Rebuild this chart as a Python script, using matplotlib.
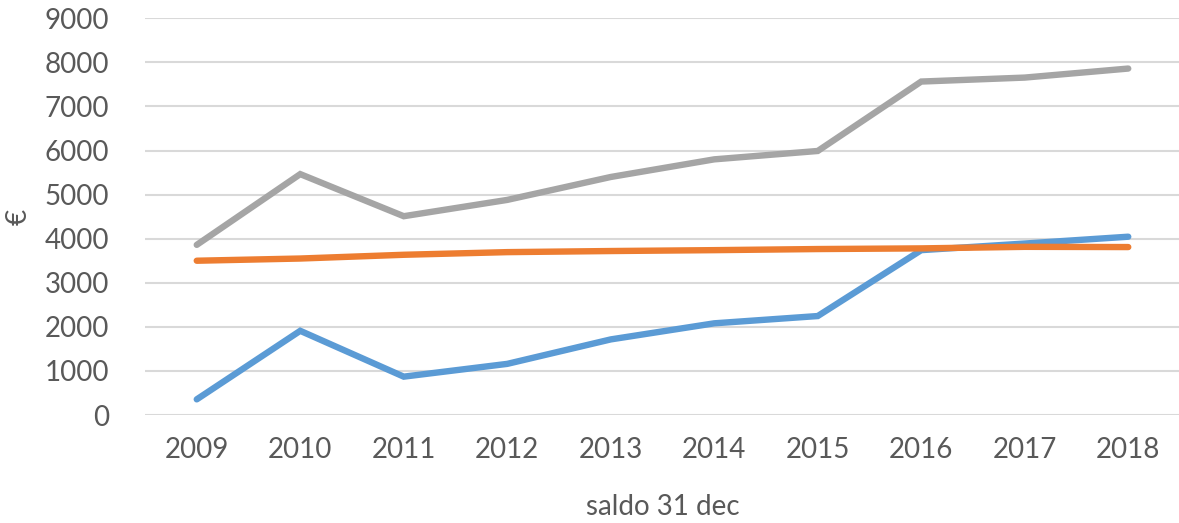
import matplotlib.pyplot as plt

jaren = ["2009", "2010", "2011", "2012", "2013", "2014", "2015", "2016", "2017", "2018"]
blauw = [355, 1910, 870, 1160, 1715, 2080, 2245, 3740, 3890, 4045]
oranje = [3500, 3550, 3635, 3695, 3720, 3740, 3765, 3780, 3815, 3810]
grijs = [3860, 5465, 4510, 4880, 5400, 5800, 5990, 7565, 7655, 7860]

plt.rcParams["font.family"] = ["Lato", "DejaVu Sans"]

fig = plt.figure(figsize=(11.79, 5.23), dpi=100)
ax = fig.add_axes([145/1179, 1-415/523, 1035/1179, (415-18.3)/523])

x = range(len(jaren))
ax.plot(x, blauw, color="#5B9BD5", lw=4.6, solid_capstyle="round", solid_joinstyle="miter", zorder=3)
ax.plot(x, oranje, color="#ED7D31", lw=4.6, solid_capstyle="round", solid_joinstyle="miter", zorder=3)
ax.plot(x, grijs, color="#A5A5A5", lw=4.6, solid_capstyle="round", solid_joinstyle="miter", zorder=3)

ax.set_xlim(-0.5, len(jaren) - 0.5)
ax.set_ylim(0, 9000)
ax.set_yticks(range(0, 9001, 1000))
ax.set_xticks(list(x))
ax.set_xticklabels(jaren)
ax.yaxis.grid(True, color="#D9D9D9", lw=1.5)
ax.set_axisbelow(True)
for s in ax.spines.values():
    s.set_visible(False)
ax.tick_params(length=0, labelsize=20, labelcolor="#595959")
ax.tick_params(axis="y", pad=26)
ax.tick_params(axis="x", pad=16)

ax.set_xlabel("saldo 31 dec", fontsize=20, color="#595959", labelpad=22)
ax.set_ylabel("€", fontsize=20, color="#595959")
ax.yaxis.set_label_coords(-0.11, 0.5)

fig.savefig("out.png", dpi=100)
